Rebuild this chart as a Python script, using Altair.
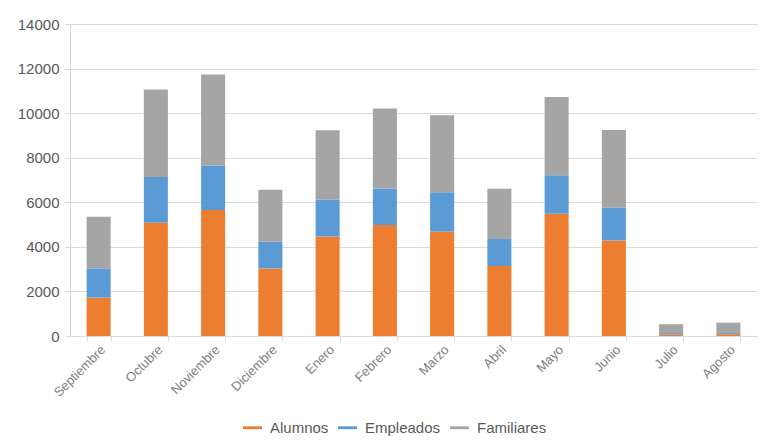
import altair as alt
import pandas as pd

months = ["Septiembre", "Octubre", "Noviembre", "Diciembre", "Enero", "Febrero",
          "Marzo", "Abril", "Mayo", "Junio", "Julio", "Agosto"]
alumnos = [1720, 5080, 5650, 3030, 4460, 4980, 4690, 3140, 5490, 4290, 70, 80]
empleados = [1315, 2050, 2000, 1200, 1650, 1640, 1760, 1210, 1720, 1480, 60, 50]
familiares = [2320, 3930, 4080, 2330, 3120, 3590, 3450, 2260, 3510, 3470, 400, 470]
series = ["Alumnos", "Empleados", "Familiares"]
colors = ["#ED7D31", "#5B9BD5", "#A5A5A5"]
y_ticks = [0, 2000, 4000, 6000, 8000, 10000, 12000, 14000]

rows = []
for i, m in enumerate(months):
    for k, (s, vals) in enumerate(zip(series, [alumnos, empleados, familiares])):
        rows.append({"Mes": m, "Serie": s, "Valor": vals[i], "orden": k})
df = pd.DataFrame(rows)

FONT = "Liberation Sans"
TXT = "#595959"
GRID = "#D9D9D9"

bars = alt.Chart(df).mark_bar().encode(
    x=alt.X("Mes:N", sort=months,
            scale=alt.Scale(paddingInner=0.58, paddingOuter=0.29),
            axis=alt.Axis(title=None, labelAngle=315, labelFontSize=13, labelColor="#7F7F7F",
                          labelFont=FONT, tickBand="extent", tickSize=5, tickColor=GRID,
                          domainColor=GRID, grid=False, labelPadding=2)),
    y=alt.Y("Valor:Q", stack="zero",
            scale=alt.Scale(domain=[0, 14000], nice=False),
            axis=alt.Axis(title=None, values=y_ticks, format="d", labelFontSize=15,
                          labelColor=TXT, labelFont=FONT, tickSize=5, tickColor=GRID,
                          domainColor=GRID, gridColor=GRID, labelPadding=6)),
    color=alt.Color("Serie:N", sort=series,
                    scale=alt.Scale(domain=series, range=colors),
                    legend=alt.Legend(title=None, orient="none", direction="horizontal",
                                      legendX=173, legendY=394, padding=0,
                                      symbolType="M-1,-0.15H1V0.15H-1Z", symbolSize=361,
                                      symbolStrokeWidth=0, labelFontSize=15, labelFont=FONT,
                                      labelColor=TXT, labelOffset=8, columnPadding=9)),
    order=alt.Order("orden:Q", sort="ascending"),
)

chart = bars.properties(
    width=687, height=312,
    autosize=alt.AutoSizeParams(type="none"),
    padding={"left": 62, "top": 16, "right": 0, "bottom": 111},
).configure_view(stroke=None).configure(background="white")

chart.save("out.html", embed_options={"renderer": "svg", "actions": False})
